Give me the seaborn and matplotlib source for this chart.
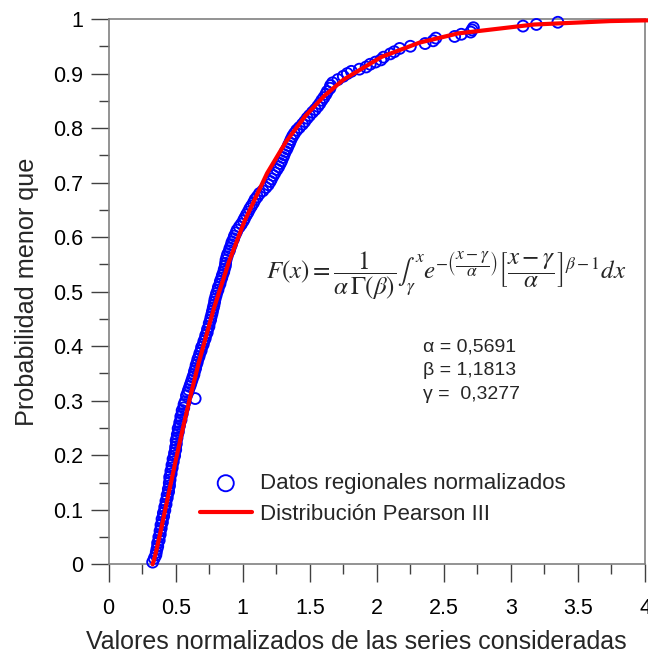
import matplotlib
matplotlib.use("Agg")
import matplotlib.pyplot as plt
from matplotlib.ticker import MultipleLocator
import seaborn as sns
import pandas as pd

# ---------------- data ----------------
obs_y_lower = [
    0.004, 0.011, 0.017, 0.022, 0.028, 0.033, 0.039, 0.044, 0.050, 0.055,
    0.061, 0.066, 0.072, 0.077, 0.083, 0.088, 0.094, 0.099, 0.105, 0.110,
    0.116, 0.122, 0.127, 0.133, 0.138, 0.144, 0.149, 0.155, 0.160, 0.166,
    0.171, 0.177, 0.182, 0.188, 0.193, 0.199, 0.204, 0.210, 0.215, 0.221,
    0.227, 0.232, 0.238, 0.243, 0.249, 0.254, 0.260, 0.265, 0.271, 0.276,
    0.282, 0.287, 0.293, 0.298, 0.304, 0.309, 0.315, 0.320, 0.326, 0.331,
    0.337, 0.343, 0.348, 0.354, 0.359, 0.365, 0.370, 0.376, 0.381, 0.387,
    0.392, 0.398, 0.403, 0.409, 0.414, 0.420, 0.425, 0.431, 0.436, 0.442,
    0.448, 0.453, 0.459, 0.464, 0.470, 0.475, 0.481, 0.486, 0.492, 0.497,
    0.503, 0.508, 0.514, 0.519, 0.525, 0.530, 0.536, 0.541, 0.547, 0.552,
    0.558, 0.564, 0.569, 0.575, 0.580, 0.586, 0.591, 0.597, 0.602, 0.608,
    0.613, 0.619, 0.624, 0.630, 0.635, 0.641, 0.646, 0.652, 0.657, 0.663,
    0.669, 0.674, 0.680, 0.685, 0.691, 0.696, 0.702, 0.707, 0.713, 0.718,
    0.724, 0.729, 0.735, 0.740, 0.746, 0.751, 0.757, 0.762, 0.768, 0.773,
    0.779, 0.785, 0.790, 0.796, 0.801, 0.807, 0.812, 0.818, 0.823, 0.829,
    0.834, 0.840, 0.845, 0.851, 0.856, 0.862, 0.867, 0.873,
]
obs_x_lower = [
    0.328, 0.340, 0.352, 0.355, 0.360, 0.366, 0.365, 0.377, 0.374, 0.385,
    0.383, 0.392, 0.390, 0.401, 0.398, 0.410, 0.408, 0.419, 0.418, 0.428,
    0.427, 0.437, 0.436, 0.447, 0.445, 0.454, 0.452, 0.458, 0.455, 0.466,
    0.464, 0.474, 0.472, 0.482, 0.480, 0.492, 0.491, 0.500, 0.499, 0.505,
    0.503, 0.510, 0.512, 0.520, 0.518, 0.528, 0.530, 0.540, 0.538, 0.549,
    0.548, 0.560, 0.562, 0.570, 0.645, 0.580, 0.590, 0.596, 0.605, 0.612,
    0.620, 0.628, 0.636, 0.640, 0.648, 0.652, 0.660, 0.665, 0.674, 0.680,
    0.690, 0.693, 0.705, 0.710, 0.720, 0.724, 0.735, 0.737, 0.748, 0.750,
    0.760, 0.763, 0.770, 0.774, 0.780, 0.785, 0.790, 0.793, 0.800, 0.805,
    0.815, 0.818, 0.830, 0.833, 0.843, 0.848, 0.858, 0.862, 0.870, 0.872,
    0.875, 0.882, 0.888, 0.900, 0.905, 0.915, 0.920, 0.932, 0.938, 0.950,
    0.958, 0.975, 0.990, 1.005, 1.015, 1.028, 1.040, 1.052, 1.065, 1.080,
    1.092, 1.108, 1.125, 1.150, 1.172, 1.190, 1.205, 1.215, 1.228, 1.240,
    1.255, 1.268, 1.280, 1.290, 1.300, 1.308, 1.318, 1.330, 1.340, 1.350,
    1.360, 1.372, 1.385, 1.402, 1.422, 1.445, 1.462, 1.480, 1.498, 1.520,
    1.540, 1.560, 1.575, 1.590, 1.605, 1.620, 1.630, 1.650,
]
obs_x_upper = [1.655, 1.67, 1.71, 1.75, 1.78, 1.81, 1.87, 1.92, 1.95, 1.99,
               2.03, 2.05, 2.10, 2.13, 2.17, 2.25, 2.36, 2.42, 2.44, 2.58,
               2.63, 2.70, 2.71, 2.72, 3.09, 3.19, 3.35]
obs_y_upper = [0.878, 0.883, 0.889, 0.895, 0.900, 0.904, 0.908, 0.912, 0.917, 0.921,
               0.925, 0.930, 0.936, 0.940, 0.946, 0.950, 0.955, 0.960, 0.965, 0.968,
               0.972, 0.976, 0.980, 0.984, 0.987, 0.990, 0.994]

fit_x = [0.3277, 0.342, 0.356, 0.3846, 0.4415, 0.4984, 0.5553, 0.6123, 0.6692,
         0.7830, 0.8968, 1.0106, 1.1814, 1.3236, 1.4659, 1.6082, 1.7505, 2.035,
         2.3196, 2.6041, 3.173, 3.742, 4.027]
fit_y = [0.0, 0.0116, 0.0259, 0.0572, 0.1230, 0.1886, 0.2516, 0.3113, 0.3673,
         0.4681, 0.5546, 0.6279, 0.7171, 0.7754, 0.8220, 0.8591, 0.8887, 0.9305,
         0.9568, 0.9735, 0.9899, 0.9962, 0.9976]

x_ticks = [0, 0.5, 1, 1.5, 2, 2.5, 3, 3.5, 4]
x_tick_labels = ["0", "0.5", "1", "1.5", "2", "2.5", "3", "3.5", "4"]
y_ticks = [0, 0.1, 0.2, 0.3, 0.4, 0.5, 0.6, 0.7, 0.8, 0.9, 1]
y_tick_labels = ["0", "0.1", "0.2", "0.3", "0.4", "0.5", "0.6", "0.7", "0.8", "0.9", "1"]

label_obs = "Datos regionales normalizados"
label_fit = "Distribución Pearson III"
x_title = "Valores normalizados de las series consideradas"
y_title = "Probabilidad menor que"
formula = (r"$F\left(x\right)=\dfrac{1}{\alpha\,\Gamma\left(\beta\right)}"
           r"\int_{\gamma}^{x}e^{-\left(\dfrac{x-\gamma}{\alpha}\right)}"
           r"\left[\dfrac{x-\gamma}{\alpha}\right]^{\beta-1}dx$")
params_text = "α = 0,5691\nβ = 1,1813\nγ =  0,3277"

obs = pd.DataFrame({"x": obs_x_lower + obs_x_upper, "y": obs_y_lower + obs_y_upper})
fit = pd.DataFrame({"x": fit_x, "y": fit_y})

# ---------------- style ----------------
sns.set_style("white")
plt.rcParams["font.family"] = ["Liberation Sans", "DejaVu Sans"]
plt.rcParams["mathtext.fontset"] = "stix"

fig = plt.figure(figsize=(6.48, 6.53), dpi=100)
ax = fig.add_axes([0.1677, 0.1358, 0.8277, 0.8351])

sns.scatterplot(data=obs, x="x", y="y", ax=ax, marker="o", s=62,
                facecolors="none", edgecolor="#0000ff", linewidth=1.35,
                label=label_obs, clip_on=False, zorder=3)
sns.lineplot(data=fit, x="x", y="y", ax=ax, color="#ff0000", linewidth=3.0,
             sort=False, estimator=None, label=label_fit, clip_on=False, zorder=4)

ax.set_xlim(0, 4)
ax.set_ylim(0, 1)
ax.set_xticks(x_ticks, labels=x_tick_labels)
ax.set_yticks(y_ticks, labels=y_tick_labels)
ax.xaxis.set_minor_locator(MultipleLocator(0.25))
ax.yaxis.set_minor_locator(MultipleLocator(0.05))
ax.tick_params(axis="both", which="major", direction="out", length=13, width=1.0,
               color="#404040", labelsize=15.5, labelcolor="black")
ax.tick_params(axis="both", which="minor", direction="out", length=7, width=1.0,
               color="#404040")
ax.tick_params(axis="x", which="major", pad=11)
ax.tick_params(axis="y", which="major", pad=5.5)
ax.tick_params(bottom=True, left=True, top=False, right=False)
ax.tick_params(which="minor", bottom=True, left=True, top=False, right=False)

for sp in ax.spines.values():
    sp.set_color("#808080")
    sp.set_linewidth(1.2)

ax.set_xlabel(x_title, fontsize=18, labelpad=8)
ax.xaxis.label.set_x(0.461)
ax.set_ylabel(y_title, fontsize=18.2, labelpad=10)

ax.text(2.52, 0.53, formula, fontsize=18, ha="center", va="center")
ax.text(2.342, 0.355, params_text, fontsize=14, ha="left", va="center",
        linespacing=1.55)

handles, labels = ax.get_legend_handles_labels()
ax.legend(handles, labels, loc="lower left", bbox_to_anchor=(0.17, 0.072),
          frameon=False, fontsize=16, markerscale=1.47, handlelength=2.33,
          handletextpad=0.37, labelspacing=0.45, borderpad=0, borderaxespad=0)

fig.savefig("out.png", dpi=100)
